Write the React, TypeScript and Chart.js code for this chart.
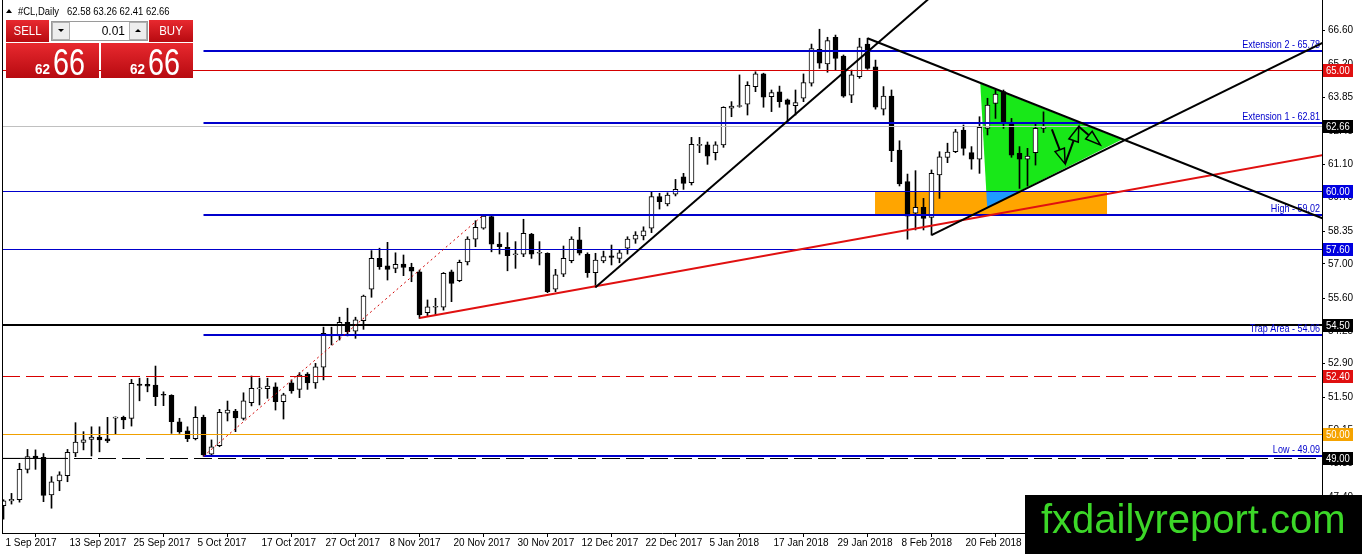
import React, { useEffect, useRef } from 'react';
import { Chart, registerables } from 'chart.js';

Chart.register(...registerables);

// ---------- DATA ----------
const opens = [
  47.05, 47.25, 47.30, 48.55, 49.10, 49.04, 47.50, 48.07, 48.29, 49.23,
  49.66, 49.78, 49.88, 49.80, 50.66, 50.69, 50.65, 52.06, 52.05, 52.02,
  51.63, 51.60, 50.50, 50.13, 49.81, 50.69, 49.17, 49.52, 50.86, 50.95,
  50.65, 51.29, 51.86, 51.87, 51.95, 51.33, 52.11, 51.84, 52.47, 52.11,
  52.75, 54.04, 54.04, 54.60, 54.24, 54.67, 55.96, 57.23, 56.92, 56.82,
  57.00, 56.86, 56.68, 55.00, 55.22, 55.22, 56.68, 56.31, 57.09, 58.02,
  58.47, 58.95, 57.82, 57.69, 57.38, 57.40, 58.23, 57.44, 57.44, 55.96,
  56.58, 57.14, 57.99, 57.40, 56.64, 57.13, 57.34, 57.23, 57.65, 58.02,
  58.16, 58.47, 59.77, 59.47, 59.87, 60.59, 60.35, 61.88, 61.90, 61.58,
  61.90, 63.41, 63.48, 63.58, 64.30, 64.82, 63.88, 64.08, 63.75, 63.51,
  63.82, 64.44, 65.83, 65.23, 66.33, 65.56, 63.95, 64.71, 66.05, 65.11,
  63.37, 63.91, 61.69, 60.39, 59.09, 59.33, 58.92, 60.66, 61.39, 61.62,
  62.51, 61.58, 61.31, 62.58, 63.61, 64.09, 62.79, 61.55, 61.31, 61.58,
  62.58,
];
const highs = [
  47.30, 47.56, 48.80, 49.37, 49.35, 49.20, 48.25, 48.45, 49.37, 50.47,
  50.10, 50.30, 50.30, 50.69, 50.71, 50.74, 52.25, 52.30, 52.30, 52.80,
  51.74, 51.62, 50.65, 50.30, 51.13, 50.78, 49.76, 51.02, 51.36, 51.02,
  51.70, 52.39, 52.30, 52.30, 52.11, 51.68, 52.23, 52.53, 52.53, 52.91,
  54.40, 54.40, 54.81, 55.18, 54.81, 55.72, 57.55, 57.65, 57.89, 57.46,
  57.37, 57.03, 56.75, 55.52, 55.59, 56.65, 56.75, 57.16, 58.12, 58.78,
  59.02, 58.97, 58.29, 58.29, 57.92, 58.84, 58.26, 57.92, 57.46, 56.78,
  57.74, 58.12, 58.51, 57.46, 57.44, 57.53, 57.78, 57.60, 58.12, 58.33,
  58.53, 59.97, 59.91, 59.93, 60.48, 60.73, 62.21, 62.21, 62.02, 62.03,
  63.47, 63.68, 64.78, 64.50, 64.91, 64.85, 64.16, 64.32, 63.79, 64.16,
  64.82, 66.05, 66.66, 66.33, 66.42, 65.60, 64.98, 66.29, 66.29, 65.39,
  64.30, 64.16, 62.07, 60.70, 60.84, 59.70, 60.87, 61.62, 61.97, 62.54,
  62.72, 61.83, 63.06, 63.82, 64.16, 64.16, 62.99, 61.83, 61.76, 62.79,
  63.26,
];
const lows = [
  46.50, 47.12, 47.20, 48.40, 48.55, 47.22, 46.95, 47.67, 48.04, 49.07,
  49.35, 49.10, 49.27, 49.65, 50.00, 50.22, 50.33, 51.37, 51.74, 51.17,
  51.17, 50.03, 50.03, 49.69, 49.76, 49.09, 49.10, 49.48, 50.54, 50.10,
  50.58, 51.16, 51.20, 51.47, 50.99, 50.62, 51.68, 51.50, 51.84, 51.88,
  52.23, 53.67, 53.87, 54.04, 53.94, 54.31, 55.63, 56.78, 56.34, 56.64,
  56.52, 56.27, 54.76, 54.86, 54.90, 55.10, 55.45, 56.27, 56.96, 57.71,
  58.43, 57.50, 57.41, 56.72, 56.82, 57.30, 57.23, 56.96, 55.82, 55.86,
  56.48, 57.05, 57.37, 56.45, 56.04, 57.05, 56.96, 57.05, 57.41, 57.85,
  57.99, 58.29, 59.26, 59.39, 59.80, 60.07, 60.25, 61.58, 61.10, 61.28,
  61.80, 63.06, 63.45, 63.13, 64.09, 63.45, 63.27, 63.45, 62.86, 63.13,
  63.68, 64.32, 65.05, 64.89, 64.98, 63.86, 63.64, 64.64, 65.01, 63.37,
  63.13, 61.21, 60.21, 58.02, 58.40, 58.40, 58.19, 59.70, 61.17, 61.58,
  61.48, 60.90, 60.73, 62.31, 62.99, 62.58, 61.39, 60.11, 60.21, 61.07,
  62.41,
];
const closes = [
  47.25, 47.32, 48.55, 49.07, 49.00, 47.48, 48.04, 48.32, 49.25, 49.67,
  49.76, 49.88, 49.76, 49.72, 50.69, 50.58, 52.09, 52.00, 51.97, 51.54,
  51.60, 50.51, 50.09, 49.81, 50.69, 49.14, 49.48, 50.90, 50.99, 50.67,
  51.37, 51.88, 51.88, 51.98, 51.33, 51.62, 51.78, 52.43, 52.11, 52.77,
  54.15, 54.11, 54.60, 54.21, 54.70, 55.68, 57.23, 56.89, 56.78, 56.99,
  56.86, 56.70, 54.90, 55.24, 55.25, 56.62, 56.20, 57.07, 58.02, 58.51,
  58.97, 57.82, 57.71, 57.34, 57.41, 58.26, 57.40, 57.48, 55.86, 56.55,
  57.23, 58.02, 57.44, 56.64, 57.16, 57.30, 57.27, 57.46, 58.02, 58.19,
  58.36, 59.77, 59.56, 59.84, 60.07, 60.32, 61.92, 61.92, 61.44, 61.90,
  63.45, 63.50, 63.52, 64.35, 64.82, 63.86, 64.05, 63.68, 63.57, 63.64,
  64.46, 65.86, 65.26, 66.19, 65.46, 63.91, 64.78, 65.94, 65.05, 63.45,
  63.91, 61.66, 60.29, 58.97, 59.33, 58.88, 60.73, 61.41, 61.60, 62.44,
  61.76, 61.31, 62.62, 63.54, 63.99, 62.86, 61.48, 61.31, 61.44, 62.58,
  62.66,
];

const xTickIndex = [0, 8, 16, 24, 32, 40, 48, 56, 64, 72, 80, 88, 96, 104, 112, 120];
const xTickLabels = [
  '1 Sep 2017', '13 Sep 2017', '25 Sep 2017', '5 Oct 2017', '17 Oct 2017', '27 Oct 2017',
  '8 Nov 2017', '20 Nov 2017', '30 Nov 2017', '12 Dec 2017', '22 Dec 2017', '5 Jan 2018',
  '17 Jan 2018', '29 Jan 2018', '8 Feb 2018', '20 Feb 2018',
];
const yTickValues = [66.6, 65.2, 63.85, 62.45, 61.1, 59.75, 58.35, 57.0, 55.6, 54.25, 52.9, 51.5, 50.15, 48.8, 47.4];

// Fibonacci expansion levels (drawn from the 6 Oct 2017 bar)
const fibStartIndex = 25;
const fibPrices = [65.78, 62.81, 59.02, 54.06, 49.09];
const fibTexts = ['Extension 2 - 65.78', 'Extension 1 - 62.81', 'High - 59.02', 'Trap Area - 54.06', 'Low - 49.09'];

// Horizontal price levels with right-axis labels
const levelPrices = [65.0, 62.66, 60.0, 57.6, 54.5, 52.4, 50.0, 49.0];

// Trend lines: [index, price] pairs
const blackUpLine = [[74, 56.04], [120, 69.15]];
const descLine = [[108, 66.29], [165, 58.86]];
const ascLine = [[116, 58.19], [165, 66.12]];
const redUpLine = [[52, 54.78], [165, 61.49]];
const fibConnector = [[25, 49.09], [60, 59.02]];
const lowSolidSegment = [[-1, 49.0], [8, 49.0]];

// Zones
const triangleZone = [[122.1, 64.43], [122.96, 59.32], [139.8, 62.12]];
const boxZone = [108.94, 137.94, 59.02, 60.0]; // i0, i1, pLow, pHigh

// Hand-drawn arrows: [from, to]
const arrows = [
  [[131.05, 62.54], [132.7, 61.12]],
  [[132.7, 61.12], [134.4, 62.66]],
  [[134.4, 62.66], [137.1, 61.9]],
];

const symbolText = '#CL,Daily';
const lastOHLC = [62.58, 63.26, 62.41, 62.66];
const lotSize = '0.01';

// ---------- STYLE ----------
const FONT = "'Liberation Sans', Arial, sans-serif";
const BLUE = '#0000CC';
const levelStyles = [
  { color: '#D40000', width: 1, dash: [] as number[], bg: '#E01010' },
  { color: '#C0C0C0', width: 1, dash: [], bg: '#000000' },
  { color: BLUE, width: 1, dash: [], bg: '#0000E0' },
  { color: BLUE, width: 1, dash: [], bg: '#0000E0' },
  { color: '#000000', width: 2, dash: [], bg: '#000000' },
  { color: '#D80000', width: 1, dash: [18, 6], bg: '#E01010' },
  { color: '#F0A000', width: 1, dash: [], bg: '#F5A300' },
  { color: '#000000', width: 1, dash: [18, 6], bg: '#000000' },
];

const narrowText = (
  ctx: CanvasRenderingContext2D,
  text: string,
  x: number,
  y: number,
  size: number,
  sx: number,
  align: CanvasTextAlign = 'left',
  baseline: CanvasTextBaseline = 'alphabetic',
  weight = '',
) => {
  ctx.save();
  ctx.font = `${weight} ${size}px ${FONT}`;
  ctx.textAlign = align;
  ctx.textBaseline = baseline;
  ctx.translate(x, y);
  ctx.scale(sx, 1);
  ctx.fillText(text, 0, 0);
  ctx.restore();
};

const overlayPlugin = {
  id: 'mt4overlay',
  beforeDatasetsDraw(chart: any) {
    const { ctx, chartArea: a, scales } = chart;
    const X = (i: number) => scales.x.getPixelForValue(i);
    const Y = (p: number) => scales.y.getPixelForValue(p);
    ctx.save();
    ctx.beginPath();
    ctx.rect(a.left, a.top, a.right - a.left, a.bottom - a.top);
    ctx.clip();
    const tri = () => {
      ctx.beginPath();
      triangleZone.forEach(([i, p], k) => (k ? ctx.lineTo(X(i), Y(p)) : ctx.moveTo(X(i), Y(p))));
      ctx.closePath();
    };
    tri();
    ctx.fillStyle = '#18E818';
    ctx.fill();
    const rx0 = X(boxZone[0]);
    const rx1 = X(boxZone[1]);
    const ry0 = Math.round(Y(boxZone[3]));
    const ry1 = Math.round(Y(boxZone[2]));
    ctx.fillStyle = '#FFA500';
    ctx.fillRect(rx0, ry0, rx1 - rx0, ry1 - ry0);
    ctx.save();
    ctx.beginPath();
    ctx.rect(rx0, ry0, rx1 - rx0, ry1 - ry0);
    ctx.clip();
    tri();
    ctx.fillStyle = '#1E9BFF';
    ctx.fill();
    ctx.restore();
    ctx.restore();
  },
  afterDatasetsDraw(chart: any) {
    const { ctx, chartArea: a, scales } = chart;
    const X = (i: number) => scales.x.getPixelForValue(i);
    const Y = (p: number) => scales.y.getPixelForValue(p);
    ctx.save();
    ctx.beginPath();
    ctx.rect(a.left, a.top, a.right - a.left, a.bottom - a.top);
    ctx.clip();

    const hline = (p: number, x0: number, color: string, w: number, dash: number[]) => {
      const yy = Math.round(Y(p)) + (w % 2 ? 0.5 : 0);
      ctx.beginPath();
      ctx.setLineDash(dash);
      ctx.strokeStyle = color;
      ctx.lineWidth = w;
      ctx.moveTo(x0, yy);
      ctx.lineTo(a.right, yy);
      ctx.stroke();
      ctx.setLineDash([]);
    };
    const seg = (pts: number[][], color: string, w: number, dash: number[] = []) => {
      ctx.beginPath();
      ctx.setLineDash(dash);
      ctx.strokeStyle = color;
      ctx.lineWidth = w;
      ctx.moveTo(X(pts[0][0]), Y(pts[0][1]));
      ctx.lineTo(X(pts[1][0]), Y(pts[1][1]));
      ctx.stroke();
      ctx.setLineDash([]);
    };

    levelPrices.forEach((p, k) => {
      const s = levelStyles[k];
      hline(p, a.left, s.color, s.width, s.dash);
    });
    seg(lowSolidSegment, '#000', 1);

    const fx0 = X(fibStartIndex);
    fibPrices.forEach((p, k) => {
      hline(p, fx0, BLUE, 2, []);
      ctx.fillStyle = BLUE;
      narrowText(ctx, fibTexts[k], a.right - 2, Math.round(Y(p)) - 3, 11, 0.82, 'right');
    });

    seg(fibConnector, '#D00000', 1, [2, 3]);
    seg(redUpLine, '#E01010', 2);
    seg(blackUpLine, '#000', 2);
    seg(descLine, '#000', 2);
    seg(ascLine, '#000', 2);

    arrows.forEach(([f, t]) => {
      const x0 = X(f[0]), y0 = Y(f[1]), x1 = X(t[0]), y1 = Y(t[1]);
      const ang = Math.atan2(y1 - y0, x1 - x0);
      const L = 15, H = 5;
      const bx = x1 - L * Math.cos(ang), by = y1 - L * Math.sin(ang);
      ctx.beginPath();
      ctx.strokeStyle = '#000';
      ctx.lineWidth = 2;
      ctx.moveTo(x0, y0);
      ctx.lineTo(bx, by);
      ctx.stroke();
      ctx.beginPath();
      ctx.lineWidth = 1.5;
      ctx.moveTo(x1, y1);
      ctx.lineTo(bx + H * Math.sin(ang), by - H * Math.cos(ang));
      ctx.lineTo(bx - H * Math.sin(ang), by + H * Math.cos(ang));
      ctx.closePath();
      ctx.stroke();
    });

    // left border
    ctx.fillStyle = '#000';
    ctx.fillRect(a.left, a.top, 1, a.bottom - a.top);
    ctx.restore();
  },
  afterDraw(chart: any) {
    const { ctx, chartArea: a, scales } = chart;
    const Y = (p: number) => scales.y.getPixelForValue(p);
    ctx.save();
    // right-axis price tags
    levelPrices.forEach((p, k) => {
      const yc = Math.round(Y(p));
      ctx.fillStyle = levelStyles[k].bg;
      ctx.fillRect(a.right + 1, yc - 6, 30, 13);
      ctx.fillStyle = '#fff';
      narrowText(ctx, p.toFixed(2), a.right + 4, yc + 0.5, 11, 0.86, 'left', 'middle');
    });

    // header
    ctx.fillStyle = '#000';
    ctx.beginPath();
    ctx.moveTo(6, 13);
    ctx.lineTo(12, 13);
    ctx.lineTo(9, 9);
    ctx.closePath();
    ctx.fill();
    narrowText(ctx, symbolText, 18, 15, 11, 0.86);
    narrowText(ctx, lastOHLC.map((v) => v.toFixed(2)).join(' '), 67, 15, 11, 0.86);

    // one-click trading panel
    const red = (x: number, y: number, w: number, h: number) => {
      const g = ctx.createLinearGradient(0, y, 0, y + h);
      g.addColorStop(0, '#E8292F');
      g.addColorStop(1, '#B70A10');
      ctx.fillStyle = g;
      ctx.fillRect(x, y, w, h);
    };
    red(6, 20, 43, 22);
    red(149, 20, 44, 22);
    red(6, 43, 93, 35);
    red(101, 43, 92, 35);
    ctx.fillStyle = 'rgba(255,255,255,0.45)';
    ctx.fillRect(9, 42, 37, 1);
    ctx.fillRect(152, 42, 38, 1);
    ctx.fillStyle = '#fff';
    ctx.fillRect(51, 21, 97, 20);
    ctx.strokeStyle = '#9A9A9A';
    ctx.lineWidth = 1;
    ctx.strokeRect(51.5, 21.5, 96, 19);
    ctx.fillStyle = '#EDEDED';
    ctx.fillRect(52, 22, 18, 18);
    ctx.fillRect(129, 22, 18, 18);
    ctx.strokeStyle = '#B0B0B0';
    ctx.strokeRect(52.5, 22.5, 17, 17);
    ctx.strokeRect(129.5, 22.5, 17, 17);
    ctx.fillStyle = '#000';
    ctx.beginPath();
    ctx.moveTo(58, 29); ctx.lineTo(64, 29); ctx.lineTo(61, 32); ctx.closePath(); ctx.fill();
    ctx.beginPath();
    ctx.moveTo(135, 32); ctx.lineTo(141, 32); ctx.lineTo(138, 29); ctx.closePath(); ctx.fill();
    narrowText(ctx, lotSize, 125, 31, 13, 0.92, 'right', 'middle');
    ctx.fillStyle = '#fff';
    narrowText(ctx, 'SELL', 27.5, 31.5, 13, 0.88, 'center', 'middle');
    narrowText(ctx, 'BUY', 171, 31.5, 13, 0.88, 'center', 'middle');
    const bid = lastOHLC[3].toFixed(2).split('.');
    narrowText(ctx, bid[0], 35, 74, 15, 0.9, 'left', 'alphabetic', 'bold');
    narrowText(ctx, bid[0], 130, 74, 15, 0.9, 'left', 'alphabetic', 'bold');
    narrowText(ctx, bid[1], 53, 75, 36, 0.8);
    narrowText(ctx, bid[1], 148, 75, 36, 0.8);

    // watermark
    ctx.fillStyle = '#000';
    ctx.fillRect(1025, 495, 337, 59);
    ctx.fillStyle = '#3CD728';
    ctx.font = `40px ${FONT}`;
    ctx.textAlign = 'left';
    ctx.textBaseline = 'alphabetic';
    ctx.fillText('fxdailyreport.com', 1041, 533);
    ctx.restore();
  },
};

export default function App() {
  const ref = useRef<HTMLCanvasElement | null>(null);
  useEffect(() => {
    document.body.style.margin = '0';
    const canvas = ref.current;
    if (!canvas) return;
    const idx = opens.map((_, i) => i);
    const chart = new Chart(canvas, {
      type: 'bar',
      data: {
        datasets: [
          {
            type: 'bar',
            data: idx.map((i) => ({ x: i, y: [lows[i], highs[i]] })) as any,
            backgroundColor: '#000',
            borderWidth: 0,
            barThickness: 1,
            grouped: false,
            order: 2,
          } as any,
          {
            type: 'bar',
            data: idx.map((i) => ({ x: i, y: [opens[i], closes[i]] })) as any,
            backgroundColor: idx.map((i) => (closes[i] >= opens[i] ? '#ffffff' : '#000000')),
            borderColor: '#000',
            borderWidth: 1,
            borderSkipped: false,
            barThickness: 5,
            minBarLength: 1,
            grouped: false,
            order: 1,
          } as any,
        ],
      },
      options: {
        animation: false,
        responsive: false,
        devicePixelRatio: 1,
        events: [],
        layout: { autoPadding: false, padding: { left: 2, top: 0, right: 0, bottom: 0 } },
        plugins: { legend: { display: false }, tooltip: { enabled: false } },
        scales: {
          x: {
            type: 'linear',
            min: -0.1875,
            max: 164.8125,
            offset: false,
            afterBuildTicks: (s: any) => {
              s.ticks = xTickIndex.map((v) => ({ value: v }));
            },
            afterFit: (s: any) => {
              s.height = 21;
              s.paddingLeft = 0;
              s.paddingRight = 0;
            },
            ticks: {
              autoSkip: false,
              maxRotation: 0,
              minRotation: 0,
              align: 'start',
              labelOffset: 2,
              padding: 0,
              color: '#000',
              font: { family: FONT, size: 10 },
              callback: (v: any) => {
                const k = xTickIndex.indexOf(Math.round(Number(v)));
                return k >= 0 ? xTickLabels[k] : '';
              },
            },
            grid: { display: true, drawOnChartArea: false, drawTicks: true, tickLength: 4, color: '#000' },
            border: { display: true, color: '#000', width: 1 },
          },
          y: {
            type: 'linear',
            position: 'right',
            min: 45.93,
            max: 67.863,
            afterBuildTicks: (s: any) => {
              s.ticks = yTickValues.map((v) => ({ value: v }));
            },
            afterFit: (s: any) => {
              s.width = 40;
              s.paddingTop = 0;
              s.paddingBottom = 0;
            },
            ticks: {
              color: '#000',
              padding: 3,
              font: { family: FONT, size: 10 },
              callback: (v: any) => Number(v).toFixed(2),
            },
            grid: { display: true, drawOnChartArea: false, drawTicks: true, tickLength: 3, color: '#000' },
            border: { display: true, color: '#000', width: 1 },
          },
        },
      } as any,
      plugins: [overlayPlugin],
    });
    return () => chart.destroy();
  }, []);
  return (
    <div style={{ width: 1362, height: 554, background: '#fff' }}>
      <canvas ref={ref} width={1362} height={554} style={{ display: 'block', width: 1362, height: 554 }} />
    </div>
  );
}
